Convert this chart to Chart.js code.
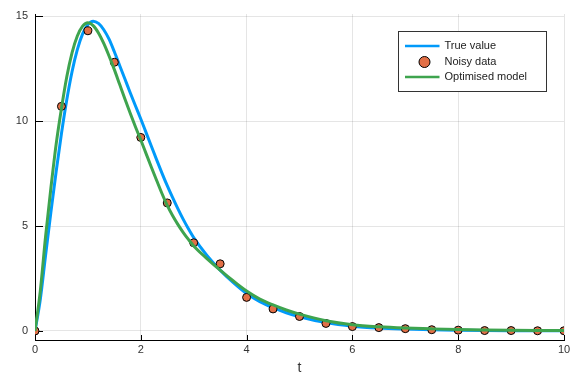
<!DOCTYPE html>
<html><head><meta charset="utf-8">
<script src="https://cdn.jsdelivr.net/npm/chart.js@4.4.0/dist/chart.umd.min.js"></script>
<style>html,body{margin:0;padding:0;background:#fff;}#wrap{width:576px;height:384px;position:relative;}</style>
</head><body><div id="wrap"><canvas id="c" width="576" height="384"></canvas></div>
<script>
// ---- data ----
const tCurve = [0,0.1,0.2,0.3,0.4,0.5,0.6,0.7,0.8,0.9,1.0,1.1,1.2,1.3,1.4,1.5,1.6,1.7,1.8,1.9,2.0,
  2.1,2.2,2.3,2.4,2.5,2.6,2.7,2.8,2.9,3.0,3.25,3.5,3.75,4.0,4.25,4.5,4.75,5.0,5.5,6.0,6.5,7.0,7.5,8.0,8.5,9.0,9.5,10];
const trueValue = [0,1.5,3.6,5.65,7.6,9.4,11.0,12.35,13.4,14.15,14.6,14.76,14.65,14.35,13.9,13.3,12.65,12.0,11.35,10.72,10.1,
  9.45,8.8,8.15,7.52,6.92,6.36,5.83,5.33,4.87,4.45,3.6,2.9,2.3,1.78,1.4,1.11,0.87,0.68,0.40,0.23,0.14,0.09,0.055,0.035,0.022,0.014,0.009,0.006];
const optimisedModel = [0,1.9,4.5,6.8,8.9,10.6,12.1,13.25,14.05,14.52,14.68,14.55,14.2,13.7,13.1,12.45,11.75,11.05,10.37,9.72,9.1,
  8.45,7.8,7.17,6.55,5.98,5.5,5.08,4.7,4.36,4.05,3.45,2.9,2.38,1.9,1.52,1.24,1.0,0.8,0.49,0.3,0.2,0.14,0.1,0.07,0.05,0.035,0.025,0.018];
const tData = [0,0.5,1,1.5,2,2.5,3,3.5,4,4.5,5,5.5,6,6.5,7,7.5,8,8.5,9,9.5,10];
const noisyData = [0,10.7,14.3,12.8,9.22,6.1,4.2,3.2,1.6,1.05,0.69,0.36,0.21,0.16,0.11,0.06,0.04,0.02,0.02,0.01,0.01];
const xTicks = [0,2,4,6,8,10];
const yTicks = [0,5,10,15];
const seriesLabels = ['True value','Noisy data','Optimised model'];
const xTitle = 't';

const BLUE = '#009AFA', ORANGE = '#E26F46', GREEN = '#3EA44E';
const FONT = '"Liberation Sans", Arial, Helvetica, sans-serif';
const pts = (xs, ys) => xs.map((x, i) => ({x, y: ys[i]}));

const innerTicksAndLegend = {
  id: 'innerTicksAndLegend',
  beforeDatasetsDraw(chart) {
    const ctx = chart.ctx, a = chart.chartArea, xs = chart.scales.x, ys = chart.scales.y;
    ctx.save();
    ctx.strokeStyle = '#000'; ctx.lineWidth = 1;
    ctx.beginPath();
    xs.ticks.forEach(t => { const p = Math.round(xs.getPixelForValue(t.value)) + 0.5;
      ctx.moveTo(p, a.bottom); ctx.lineTo(p, a.bottom - 5); });
    ys.ticks.forEach(t => { const p = Math.round(ys.getPixelForValue(t.value)) + 0.5;
      ctx.moveTo(a.left, p); ctx.lineTo(a.left + 8, p); });
    ctx.stroke();
    ctx.restore();
  },
  afterDraw(chart) {
    const ctx = chart.ctx, a = chart.chartArea;
    const bx = Math.round(a.right - 166) + 0.5, by = Math.round(a.top + 17) + 0.5, bw = 148, bh = 60;
    ctx.save();
    ctx.fillStyle = '#fff'; ctx.fillRect(bx, by, bw, bh);
    ctx.strokeStyle = '#333'; ctx.lineWidth = 1; ctx.strokeRect(bx, by, bw, bh);
    const rows = [by + 14.5, by + 30.5, by + 45.5];
    const ds = chart.data.datasets;
    [[0, ds[0]], [2, ds[2]]].forEach(([r, d]) => {
      ctx.strokeStyle = d.borderColor; ctx.lineWidth = 2.5;
      ctx.beginPath(); ctx.moveTo(bx + 6.5, rows[r]); ctx.lineTo(bx + 41, rows[r]); ctx.stroke();
    });
    ctx.fillStyle = ds[1].backgroundColor; ctx.strokeStyle = '#000'; ctx.lineWidth = 1;
    ctx.beginPath(); ctx.arc(bx + 26, rows[1], 5.5, 0, Math.PI * 2); ctx.fill(); ctx.stroke();
    ctx.fillStyle = '#222'; ctx.font = '11px ' + FONT; ctx.textBaseline = 'middle'; ctx.textAlign = 'left';
    [ds[0].label, ds[1].label, ds[2].label].forEach((s, i) => ctx.fillText(s, bx + 46, rows[i]));
    ctx.restore();
  }
};

new Chart(document.getElementById('c'), {
  type: 'line',
  data: {
    datasets: [
      { label: seriesLabels[0], data: pts(tCurve, trueValue), borderColor: BLUE, backgroundColor: BLUE,
        borderWidth: 3, pointRadius: 0, cubicInterpolationMode: 'monotone', fill: false, order: 3 },
      { label: seriesLabels[1], data: pts(tData, noisyData), showLine: false, borderColor: '#000', backgroundColor: ORANGE,
        pointRadius: 4, pointBorderWidth: 1, pointBorderColor: '#000', pointBackgroundColor: ORANGE, order: 2 },
      { label: seriesLabels[2], data: pts(tCurve, optimisedModel), borderColor: GREEN, backgroundColor: GREEN,
        borderWidth: 3, pointRadius: 0, cubicInterpolationMode: 'monotone', fill: false, order: 1 }
    ]
  },
  options: {
    responsive: false, animation: false, devicePixelRatio: 1,
    layout: { padding: { left: 0, right: 12, top: 14, bottom: 0 } },
    plugins: { legend: { display: false }, tooltip: { enabled: false } },
    scales: {
      x: {
        type: 'linear', min: 0, max: 10,
        afterBuildTicks: s => { s.ticks = xTicks.map(v => ({ value: v })); },
        afterFit: s => { s.height = 44; },
        grid: { color: 'rgba(0,0,0,0.1)', lineWidth: 1, drawTicks: false },
        border: { display: true, color: '#000', width: 1 },
        ticks: { font: { size: 11, family: FONT }, color: '#333', padding: 3, maxRotation: 0 },
        title: { display: true, text: xTitle, font: { size: 14, family: FONT }, color: '#333', padding: { top: 0, bottom: 7 } }
      },
      y: {
        type: 'linear', min: -0.43, max: 15.1,
        afterBuildTicks: s => { s.ticks = yTicks.map(v => ({ value: v })); },
        afterFit: s => { s.width = 35; },
        grid: { color: 'rgba(0,0,0,0.1)', lineWidth: 1, drawTicks: false },
        border: { display: true, color: '#000', width: 1 },
        ticks: { font: { size: 11, family: FONT }, color: '#333', padding: 7 }
      }
    }
  },
  plugins: [innerTicksAndLegend]
});
</script></body></html>
